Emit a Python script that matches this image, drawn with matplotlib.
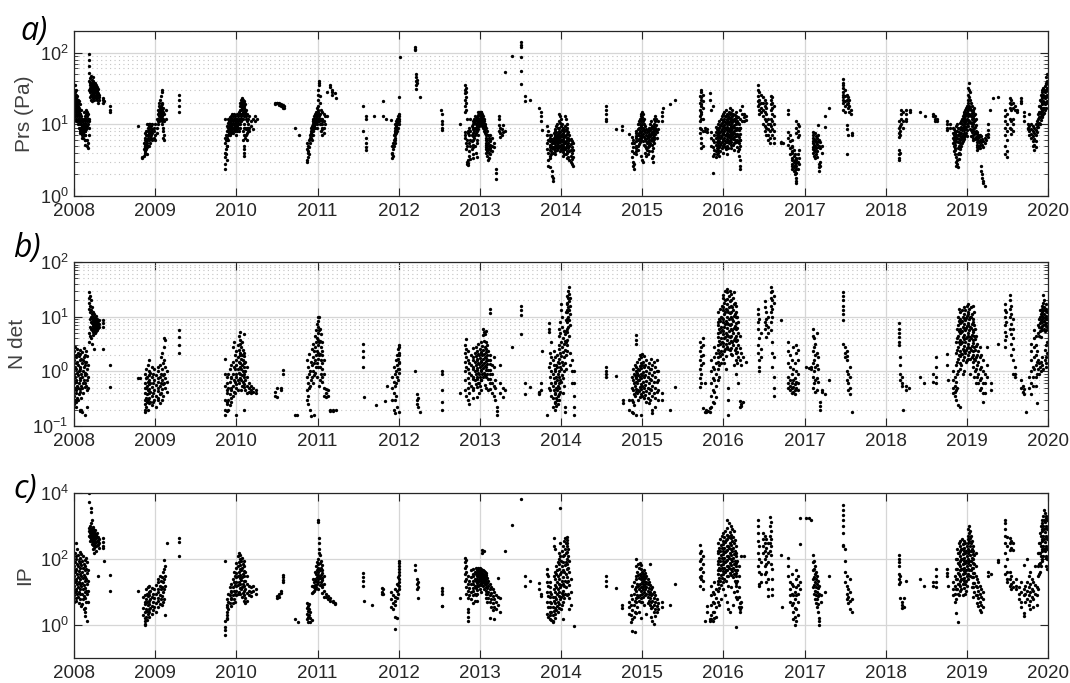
import numpy as np
import matplotlib
matplotlib.use('Agg')
import matplotlib.pyplot as plt
from matplotlib.ticker import LogLocator, NullFormatter, NullLocator

plt.rcParams['font.family'] = ['Liberation Sans', 'DejaVu Sans']
plt.rcParams['mathtext.default'] = 'regular'

years = list(range(2008, 2021))

# (decimal year, values detected on that day)
prs_days = [
    (2008.00, [22, 18, 30, 15, 26, 12]), (2008.01, [20, 28, 16, 13, 24, 19, 35]),
    (2008.02, [17, 21, 14, 11, 26, 23]), (2008.03, [19, 23, 15, 12, 30, 17, 21]),
    (2008.04, [16, 20, 13, 25, 11, 18]), (2008.05, [14, 22, 12, 18, 10, 16, 20]),
    (2008.06, [13, 17, 11, 21, 9, 15]), (2008.07, [12, 16, 10, 19, 8.5, 14, 11]),
    (2008.08, [11, 14, 9, 12, 8, 7.5]), (2008.09, [10, 13, 8.5, 7.5, 16, 9]),
    (2008.10, [9, 11, 8, 7, 12, 9.5, 6.5]), (2008.11, [8, 10, 7.5, 6.5, 9, 11]),
    (2008.12, [9, 12, 7, 8.5, 15, 10]), (2008.13, [8, 6, 5.2, 10, 7.2, 12]),
    (2008.14, [9.5, 11, 7, 13, 8, 6]), (2008.15, [10, 12, 14, 9, 8.5, 16]),
    (2008.16, [11, 13, 9.5, 15, 6, 5]), (2008.17, [10, 14, 12, 4.6, 5.5]),
    (2008.18, [12, 9, 11, 7]),
    (2008.19, [95, 80, 65, 52, 40, 30]), (2008.20, [35, 28, 44, 24, 32, 38]),
    (2008.21, [30, 38, 26, 47, 22, 33]), (2008.22, [28, 35, 42, 25, 31, 21, 37]),
    (2008.23, [32, 27, 38, 24, 30, 36, 45]), (2008.24, [29, 34, 26, 40, 23, 31]),
    (2008.25, [31, 27, 36, 24, 33, 22, 29]), (2008.26, [28, 33, 25, 38, 30, 35]),
    (2008.27, [26, 30, 35, 23, 28, 32]), (2008.28, [30, 25, 33, 27, 22, 29]),
    (2008.29, [27, 24, 31, 20]), (2008.31, [26, 22, 24]), (2008.36, [22, 20, 23]),
    (2008.37, [21]), (2008.44, [18, 16, 15]),
    (2008.79, [9.5]), (2008.84, [3.5, 3.4]), (2008.86, [5.5, 4.5, 3.6]),
    (2008.87, [6, 4, 5, 3.8]), (2008.88, [6.5, 5, 4.2, 7.5, 4.8]),
    (2008.89, [7, 5.5, 4.5, 6, 8, 5.2]), (2008.90, [6, 4.8, 7.2, 5.5, 3.8, 10]),
    (2008.91, [8, 6.5, 5, 9, 7]), (2008.92, [7.5, 9.5, 6, 10, 8.5, 5]),
    (2008.93, [8.8, 7, 10, 6.2, 9.2]), (2008.94, [9, 7.8, 6.8, 10, 5.5]),
    (2008.95, [8, 6.5, 9.5, 7]), (2008.96, [7.5, 6, 8.5, 10]), (2008.98, [8, 6.5, 9]),
    (2009.00, [10, 7, 6]), (2009.02, [12, 9, 7.5]), (2009.04, [12, 14, 10, 16, 11]),
    (2009.05, [15, 13, 18, 11, 20, 14]), (2009.06, [16, 12, 14, 22, 17, 13]),
    (2009.07, [18, 15, 25, 13, 12, 16]), (2009.08, [14, 20, 28, 17, 11, 15]),
    (2009.09, [13, 16, 19, 12, 10, 30]), (2009.10, [15, 17, 12, 9, 6.5, 8]),
    (2009.11, [14, 11, 7, 6]), (2009.13, [16, 12]), (2009.29, [26, 22, 18, 15]),
    (2009.86, [12, 6.5, 5.5, 4, 3.5, 2.8, 2.4]), (2009.87, [7, 6, 4.5, 3.8]),
    (2009.88, [6.5, 5, 9.5, 3.2]), (2009.89, [8, 6, 5]),
    (2009.90, [9, 7, 8, 10.5, 12, 6]), (2009.91, [8.5, 10, 7.5, 11, 9]),
    (2009.92, [9.5, 8, 11, 7, 12.5, 10]), (2009.93, [10, 8.5, 12, 9, 7.5]),
    (2009.94, [9, 11, 7.8, 13, 8.2]), (2009.95, [10, 12, 9.2, 14, 8]),
    (2009.96, [11, 9, 13, 7.5, 10]), (2009.97, [12, 10, 14, 8.5, 9]),
    (2009.98, [10, 13, 11, 9.5, 8]), (2009.99, [12, 9, 11, 8.5]),
    (2010.00, [9, 11, 7, 10, 12]), (2010.01, [10, 12, 14, 8, 9.5]),
    (2010.02, [11, 13, 9, 10]), (2010.03, [12, 10, 8, 15]), (2010.04, [14, 11, 9, 12]),
    (2010.05, [18, 14, 12, 20, 10, 16]), (2010.06, [16, 20, 22, 13, 11, 18]),
    (2010.07, [21, 17, 14, 23, 12, 19]), (2010.08, [20, 15, 18, 22, 12, 8, 6]),
    (2010.09, [18, 14, 21, 16, 9, 5, 4]), (2010.10, [17, 13, 20, 10, 7, 4.5, 3.6]),
    (2010.11, [15, 19, 9, 6.5, 14]), (2010.12, [13, 16, 8.5, 7, 12]),
    (2010.13, [11, 9, 7.5, 6, 14]), (2010.14, [12, 10, 8, 9]), (2010.16, [13, 9, 8]),
    (2010.18, [11, 9.5]), (2010.20, [12, 8.5]), (2010.23, [13, 11]), (2010.25, [12]),
    (2010.48, [20, 19]), (2010.50, [20, 19.5]), (2010.52, [20, 18.5]),
    (2010.55, [19, 18]), (2010.57, [18.5, 17.5, 17]), (2010.59, [18, 17]),
    (2010.72, [9]), (2010.77, [7]),
    (2010.87, [5.5, 4.5, 3.2, 3.0]), (2010.88, [5, 4, 3.5, 4.2]), (2010.89, [6, 4.8, 3.8]),
    (2010.91, [7, 5.5, 6.5]), (2010.92, [8, 6.5, 7.5, 9]), (2010.93, [7, 9.5, 8, 6]),
    (2010.94, [10, 8, 11, 7]), (2010.95, [9, 11, 12, 8.5, 10]), (2010.96, [11, 13, 9.5, 12]),
    (2010.97, [10, 12, 14, 11, 9]), (2010.98, [12, 10.5, 13, 15]),
    (2010.99, [11, 13, 17, 10, 9]), (2011.00, [14, 12, 16, 18, 11]),
    (2011.01, [22, 26, 30, 12, 15]), (2011.02, [38, 40, 35, 13, 11]),
    (2011.03, [25, 20, 14, 10, 12]), (2011.04, [16, 12, 10, 8]), (2011.05, [15, 11, 9, 7]),
    (2011.06, [12, 10, 8.5]), (2011.08, [14, 11, 9, 7.5]), (2011.09, [13, 10]),
    (2011.12, [28, 13]), (2011.15, [33, 35]), (2011.18, [26, 30, 28]), (2011.21, [27]),
    (2011.23, [23]),
    (2011.56, [18, 8]), (2011.60, [13, 12, 6.5, 5.5, 4.8, 4.4]), (2011.70, [13]),
    (2011.81, [21, 13]), (2011.85, [12]), (2011.91, [11.5]),
    (2011.92, [4, 3.4, 3.8, 5]), (2011.93, [4.5, 5.5, 3.6]), (2011.94, [6, 5, 7]),
    (2011.95, [6.5, 8, 7.5, 5.5]), (2011.96, [7, 9, 8, 6, 10]),
    (2011.97, [8.5, 10, 11, 7.5, 9.5]), (2011.98, [9, 11, 12, 10, 8]),
    (2011.99, [10.5, 12, 13, 11, 9]), (2012.00, [11, 13, 14, 12, 10]),
    (2012.01, [24]), (2012.02, [86]),
    (2012.20, [118, 112, 108]), (2012.21, [50, 45, 40, 35, 31]), (2012.22, [42, 38]),
    (2012.26, [24]), (2012.52, [16]), (2012.54, [14, 11, 10, 9, 8.3]),
    (2012.76, [10]), (2012.82, [35, 30, 27, 22, 18, 15, 7.8, 7, 6.5]),
    (2012.83, [32, 28, 24, 20, 16, 5.5, 4.5]), (2012.84, [12, 6, 5, 3, 2.8]),
    (2012.85, [8, 7.5, 3.2, 2.9, 2.7]), (2012.87, [9, 7, 5.5, 4.2, 3.6]),
    (2012.88, [12, 8, 6, 5, 3.3]), (2012.90, [9.5, 7.2, 5.8, 4.5]),
    (2012.91, [11, 8.5, 6.8, 5.2, 3.8]), (2012.92, [10, 9, 7.5, 6, 4.8, 3.4]),
    (2012.93, [12, 10.5, 8, 6.5]), (2012.94, [13, 11, 9, 7, 5]),
    (2012.95, [12, 10, 8.5, 7.5, 4]), (2012.96, [11.5, 9.5, 8, 6, 3.5]),
    (2012.97, [12.5, 11, 10, 9, 5.5]), (2012.98, [15, 13.5, 12, 10.5, 8.5, 7]),
    (2012.99, [14, 12, 11, 9.5, 15]), (2013.00, [13, 11, 15, 10, 14, 12]),
    (2013.01, [15, 12, 14, 10, 11, 13]), (2013.02, [14, 12, 13, 11, 10, 15]),
    (2013.03, [13, 14, 11, 12, 9.5]), (2013.04, [12, 10, 11, 13, 9]),
    (2013.05, [11, 9, 10, 12, 8]), (2013.06, [10, 8.5, 9.5, 7.5]),
    (2013.07, [7, 6, 5.2, 4.5, 9]), (2013.08, [6.5, 5.5, 4.8, 4, 7.4]),
    (2013.09, [6, 5, 4.2, 3.6, 8]), (2013.10, [7, 5.5, 4.5, 3.2]),
    (2013.11, [6.5, 5, 4, 3.4]), (2013.12, [6, 5.2, 4.4, 3.8]), (2013.13, [7, 5.8, 4.6]),
    (2013.15, [6.5, 5, 4.2]), (2013.17, [5.5, 4.8]), (2013.20, [2.4, 2.1, 1.7]),
    (2013.23, [13, 12, 9.7, 8]), (2013.25, [9, 7.5, 6.7]), (2013.27, [8.5, 7]),
    (2013.29, [9.7, 7.8]), (2013.31, [53, 8]), (2013.40, [90]),
    (2013.51, [139, 128, 118, 86, 56, 37]), (2013.56, [25, 21]), (2013.62, [22]),
    (2013.73, [17]), (2013.75, [15, 13, 11]), (2013.77, [8.4]),
    (2013.83, [9.5, 7, 5.5, 4.5]), (2013.84, [8, 6, 4, 3.2, 2.6]),
    (2013.86, [7.2, 5.8, 4.8, 3.6, 2.5]), (2013.87, [6.5, 5.2, 4.4, 3.4]),
    (2013.88, [7, 6, 5, 4.2, 3.8]), (2013.89, [6.2, 5.4, 4.6, 2.2, 1.9]),
    (2013.90, [5.8, 4.8, 4, 1.8, 1.6]), (2013.91, [7.5, 6.5, 5.5, 4.5]),
    (2013.92, [8, 6.8, 5.8, 5, 4.3]), (2013.93, [8.5, 7.2, 6.2, 5.4, 4.6, 3.9]),
    (2013.94, [9.5, 7.8, 6.6, 5.6, 4.8]), (2013.95, [10, 7, 6, 5.2, 4.4]),
    (2013.96, [8.8, 7.4, 6.4, 5.5, 4.7]), (2013.97, [9, 7.6, 6.5, 5.7, 5]),
    (2013.98, [14, 11, 8, 6.8, 5.8, 4.9]), (2013.99, [13, 10.5, 7.8, 6.6, 5.6, 4.2]),
    (2014.00, [12, 9.6, 7, 6, 5.1, 4.5]), (2014.01, [10, 8.2, 6.9, 5.9, 4.8]),
    (2014.02, [9, 7.5, 6.3, 5.3, 4.4, 3.6]), (2014.03, [8.5, 7, 6, 5, 4.1]),
    (2014.04, [8, 6.6, 5.6, 4.7, 3.9]), (2014.05, [13, 9.5, 6.8, 5.5, 4.5]),
    (2014.06, [12, 8.5, 7, 5.8, 4.9, 3.8]), (2014.07, [10, 8, 6.4, 5.2, 4.3]),
    (2014.08, [9, 7.4, 6, 5, 4, 3.4]), (2014.09, [7.8, 6.5, 5.4, 4.6, 3.5]),
    (2014.10, [7, 6, 5, 4.2, 3.2]), (2014.12, [6.2, 5.3, 4.4, 3.6, 3]),
    (2014.13, [5.8, 4.8, 4, 3.3, 2.8]), (2014.15, [5.5, 4.4, 3.5, 2.6]),
    (2014.55, [18, 16, 14, 12, 11]), (2014.68, [8.7]), (2014.75, [9.5, 8.2]),
    (2014.84, [7.4]), (2014.88, [6.6, 5.5, 4.2, 3.5]), (2014.89, [6, 4.8, 3, 2.6]),
    (2014.90, [5.5, 4, 2.8, 2.4]), (2014.92, [7.5, 6.5, 5, 4.3]),
    (2014.93, [8, 6.8, 5.8, 4.6, 3.8]), (2014.95, [10, 8.5, 7, 6, 5, 4.4]),
    (2014.96, [11, 9, 7.5, 6.2, 5.3]), (2014.97, [12, 10, 8, 6.8, 5.6]),
    (2014.98, [13, 11, 9, 7.2, 6]), (2014.99, [14, 12, 9.5, 7.8, 6.4, 3.6]),
    (2015.00, [15, 12.5, 10, 8, 6.8, 3.2]), (2015.01, [14, 11, 9, 7.4, 5.8, 3]),
    (2015.02, [12, 10, 8.2, 6.6, 5.2]), (2015.04, [9.5, 7.8, 6.3, 5, 4]),
    (2015.05, [8.5, 7, 5.8, 4.6, 3.6]), (2015.06, [7.8, 6.4, 5.4, 4.4]),
    (2015.07, [8.2, 6.8, 5.6, 4.8, 3.8]), (2015.08, [9, 7.4, 6, 5]),
    (2015.09, [8, 6.6, 5.2, 4.2]), (2015.10, [10, 8.4, 6.9, 5.5]),
    (2015.11, [11, 9, 7.4, 6]), (2015.12, [9.5, 7.8, 6.4, 5.2, 4.2, 3.4]),
    (2015.13, [8.6, 7, 5.8, 4.6, 3.6, 3]), (2015.14, [12, 9.2, 7.6, 6.2]),
    (2015.15, [10, 8, 6.6, 5.4]), (2015.16, [13, 11, 9, 7.4]), (2015.17, [12, 9.8, 8.2]),
    (2015.18, [7.8, 6.5]), (2015.19, [11, 8.6]), (2015.24, [15, 13, 11]),
    (2015.26, [17]), (2015.34, [19]), (2015.40, [22]),
    (2015.71, [25, 20, 16, 13, 11, 9, 7.5]), (2015.72, [28, 22, 18, 14, 12, 5.5, 4.6]),
    (2015.73, [30, 24, 19, 15, 8.5, 6.5]), (2015.75, [26, 21, 17, 12, 8, 5]),
    (2015.77, [9, 8]), (2015.80, [8.5, 7.8]), (2015.83, [27, 22]),
    (2015.85, [16, 7.8, 6.5, 5]), (2015.87, [18, 6, 4.8, 3.6, 2.1]),
    (2015.89, [7.2, 5.6, 4.4, 3.8]), (2015.91, [9.2, 7.8, 6.4, 5.2, 4.2, 3.5]),
    (2015.92, [8.5, 7, 5.6, 4.6, 3.8]), (2015.93, [9, 7.5, 6, 5, 4]),
    (2015.94, [10, 8.2, 6.6, 5.4, 4.4]), (2015.95, [11, 8.8, 7.2, 5.8, 4.8, 3.6]),
    (2015.96, [9.6, 7.8, 6.4, 5.2, 4.2]), (2015.97, [12, 10, 8, 6.6, 5.4]),
    (2015.98, [13, 10.5, 8.6, 7, 5.7, 4.6]), (2015.99, [11, 9, 7.4, 6, 5]),
    (2016.00, [14, 11.5, 9.4, 7.6, 6.2, 5, 4]), (2016.01, [15, 12, 9.8, 8, 6.5, 5.3]),
    (2016.02, [13, 10.8, 8.8, 7.2, 5.9, 4.8]), (2016.03, [16, 13, 10.5, 8.5, 7, 5.7, 4.5]),
    (2016.04, [14, 11.5, 9.3, 7.6, 6.2, 5]), (2016.05, [12, 10, 8.2, 6.8, 5.6, 4.6, 3.9]),
    (2016.06, [13, 10.6, 8.7, 7.1, 5.8, 4.7]), (2016.07, [15, 12.2, 10, 8.1, 6.6, 5.4]),
    (2016.08, [17, 14, 11.2, 9, 7.3, 6]), (2016.09, [14.5, 11.8, 9.6, 7.8, 6.4, 5.2]),
    (2016.10, [12.5, 10.2, 8.4, 6.9, 5.6, 4.6]), (2016.11, [16, 13.2, 10.8, 8.8, 7.2]),
    (2016.12, [14, 11.4, 9.3, 7.6, 6.2, 5.1]), (2016.13, [12, 9.8, 8, 6.6, 5.4, 4.4]),
    (2016.14, [13.5, 11, 9, 7.4, 6]), (2016.15, [15, 12.4, 10.2, 8.3, 6.8, 5.6]),
    (2016.16, [13, 10.6, 8.6, 7, 5.7]), (2016.17, [11, 9, 7.4, 6, 4.9]),
    (2016.18, [12.8, 10.4, 8.5, 7, 5.8, 4.2]), (2016.19, [10, 8.2, 6.7, 5.5, 4.5, 3.6]),
    (2016.20, [9, 7.4, 6.1, 5, 3.2, 2.6]), (2016.21, [16, 12, 9, 6, 2.4]),
    (2016.23, [18, 14, 11]), (2016.26, [14, 12.5, 11]), (2016.28, [13, 11.5]),
    (2016.43, [35, 30, 25, 21, 18]), (2016.44, [28, 22, 19, 16, 14]),
    (2016.46, [26, 20, 17, 15]), (2016.49, [24, 20, 16, 13, 10]),
    (2016.51, [22, 18, 15, 12, 9.5, 8]), (2016.53, [20, 17, 14, 11, 9, 7]),
    (2016.55, [12, 10, 8.5, 7, 6]), (2016.57, [10, 8, 6.5, 5.5]),
    (2016.59, [25, 22, 19, 16, 12, 9.5]), (2016.60, [24, 20, 17, 14, 11, 8.5, 7]),
    (2016.62, [18, 13, 10, 8, 6.5, 5.4]), (2016.71, [5.6, 5.4]), (2016.74, [5.5]),
    (2016.80, [16, 14, 7.8, 6.5, 5.2]), (2016.82, [7, 5.8, 4.6, 3.8]),
    (2016.84, [6, 4.8, 4, 3.2, 2.6]), (2016.85, [5, 4.2, 3.4, 2.8, 2.4]),
    (2016.87, [4.4, 3.6, 3, 2.5, 2.2]), (2016.88, [3.8, 3.2, 2.7, 2.3, 2]),
    (2016.89, [3.4, 2.9, 2.4, 2.1, 1.8, 1.6]), (2016.90, [11, 9, 7.5, 3.2, 2.6, 1.5]),
    (2016.92, [10, 8, 6.6, 3.8, 3, 2.4]), (2016.93, [9.5, 7.2, 4.4, 3.4, 2.8]),
    (2017.10, [7.8, 6.5, 5.4, 4.5]), (2017.11, [7, 5.8, 4.8, 4]),
    (2017.12, [6.2, 5.2, 4.4, 3.6]), (2017.13, [7.5, 6, 5, 4.2, 3.4]),
    (2017.14, [6.8, 5.6, 4.6, 3.8]), (2017.15, [6.4, 5.3, 4.3, 3.5]),
    (2017.17, [9.7, 7, 5.8, 4.8]), (2017.18, [6, 5, 2.8, 2.5, 2.2]),
    (2017.19, [5.6, 4.6, 3, 2.6]), (2017.21, [5, 4]), (2017.25, [13, 9.2]),
    (2017.30, [17]), (2017.47, [43, 38, 32, 26, 22]), (2017.48, [35, 28, 24, 20, 16]),
    (2017.50, [30, 25, 21, 18, 15]), (2017.52, [26, 22, 19, 9.7, 8.5, 3.8]),
    (2017.53, [24, 20, 17, 7]), (2017.55, [22, 18, 15]), (2017.57, [16, 14]),
    (2017.59, [7.5, 7]),
    (2018.16, [4.4, 3.8, 3.4, 3.2]), (2018.17, [11, 9, 7.5, 6.6]), (2018.18, [9.5, 8, 7, 4]),
    (2018.19, [16, 14, 12, 10]), (2018.21, [15, 11, 9]), (2018.25, [16, 14, 12, 11]),
    (2018.30, [16, 15]), (2018.42, [15]), (2018.48, [13]), (2018.58, [14, 13]),
    (2018.61, [13, 12, 11]), (2018.63, [12, 11]),
    (2018.75, [11, 10, 9, 8.3]), (2018.79, [10, 9]), (2018.83, [9, 7.5, 6.5, 5.5]),
    (2018.84, [8.5, 7, 6, 5, 4.2]), (2018.85, [8, 6.6, 5.6, 4.6, 3.8]),
    (2018.86, [7.6, 6.2, 5.2, 4.4]), (2018.87, [9.5, 7.2, 5.8, 3.5, 3, 2.6]),
    (2018.88, [10, 8, 6.4, 3.2, 2.8]), (2018.89, [8.8, 7, 5.6, 4.6, 3.8, 2.5]),
    (2018.90, [7.8, 6.3, 5, 4, 3.3]), (2018.91, [9, 7.4, 6, 4.8, 3.9]),
    (2018.92, [10.5, 8.5, 6.8, 5.5, 4.5]), (2018.93, [11, 9.2, 7.6, 6.2, 5]),
    (2018.94, [12, 10, 8.2, 6.6, 5.4]), (2018.95, [13, 11, 9, 7.2, 5.8]),
    (2018.96, [14, 11.5, 9.4, 7.6, 6.2]), (2018.97, [15, 12.4, 10, 8.2, 6.6]),
    (2018.98, [16, 13, 10.6, 8.6, 7]), (2018.99, [17, 14, 11.4, 9.2, 7.5]),
    (2019.00, [18, 15, 12, 10, 8.2, 6.8]), (2019.01, [22, 17, 14, 11.5, 9.4]),
    (2019.02, [32, 26, 20, 16, 13, 10.5]), (2019.03, [38, 30, 24, 18, 14, 11]),
    (2019.04, [28, 22, 17, 13.5, 10.8, 8.6]), (2019.05, [20, 16, 13, 10.5, 8.4, 6.8]),
    (2019.06, [18, 14.5, 11.8, 9.6, 7.8]), (2019.07, [16, 13, 10.6, 8.6, 7, 6]),
    (2019.08, [15, 12.2, 10, 8, 6.5]), (2019.09, [17, 13.6, 11, 9, 7.3]),
    (2019.10, [14, 11.4, 9.2, 7.5, 6.2]), (2019.11, [12, 9.8, 8, 6.6]),
    (2019.12, [7.8, 6.6, 5.6, 4.8]), (2019.13, [7.4, 6.2, 5.2, 4.4]),
    (2019.14, [7, 5.8, 5, 4.6]), (2019.15, [6.6, 5.6, 4.8]), (2019.16, [7.2, 6, 5.2, 4.6]),
    (2019.18, [6.8, 5.6, 2.6, 2.2]), (2019.19, [6.2, 5.2, 2, 1.8]),
    (2019.20, [5.8, 4.8, 1.6, 1.5]), (2019.22, [6.4, 5.4, 1.4]), (2019.24, [7, 6]),
    (2019.26, [10, 8.4, 7.4, 6.6]), (2019.28, [16]), (2019.32, [23]), (2019.38, [24]),
    (2019.47, [16, 13, 11, 9, 7, 5, 3.8]), (2019.49, [14, 10, 8, 6, 4.2, 3.5]),
    (2019.53, [23, 20, 17, 12, 9]), (2019.55, [22, 19, 16, 11, 8.5, 7.4]),
    (2019.57, [20, 17, 12, 10, 8]), (2019.59, [18, 16]), (2019.62, [16, 15]),
    (2019.67, [23, 21, 20]), (2019.71, [15, 13, 11]), (2019.75, [10, 9, 8.5]),
    (2019.77, [14, 9.5, 8, 7]), (2019.79, [10, 8.6, 7.4, 6.5]),
    (2019.81, [9.5, 8, 6.8, 5.8, 5]), (2019.83, [9, 7.6, 6.2, 5.2, 4.4]),
    (2019.85, [10, 8.4, 7, 5.8, 4.8]), (2019.87, [11, 9.2, 7.8]),
    (2019.88, [14, 12, 10, 9.2]), (2019.89, [18, 15, 12.5, 10.5]),
    (2019.90, [22, 18, 15, 12.5, 10]), (2019.91, [26, 21, 17, 14, 11.5]),
    (2019.92, [30, 24, 20, 16, 13]), (2019.93, [28, 23, 19, 15.5, 12.5]),
    (2019.94, [32, 26, 21, 17, 14]), (2019.95, [30, 25, 20.5, 17, 14.5]),
    (2019.96, [34, 28, 23, 19, 16]), (2019.97, [38, 30, 25, 20, 17]),
    (2019.98, [45, 36, 29, 24, 20]), (2019.99, [50, 40, 32, 26, 21]),
]

ndet_days = [
    (2008.00, [2.4, 1.6, 0.9, 0.6, 0.35, 0.25]), (2008.01, [2.8, 1.2, 0.8, 0.5, 0.3]),
    (2008.02, [2, 1.4, 0.7, 0.45, 0.28, 0.22]), (2008.03, [1.8, 1.1, 0.65, 0.4]),
    (2008.04, [2.6, 1.5, 0.95, 0.55, 0.33]), (2008.05, [2.2, 1.3, 0.85, 0.5, 0.3]),
    (2008.06, [1.9, 1, 0.6, 0.38]), (2008.07, [2.5, 1.6, 1.1, 0.7, 0.42]),
    (2008.08, [2.1, 1.2, 0.75, 0.48, 0.2, 0.19]), (2008.09, [1.7, 0.9, 0.55, 0.32, 0.2]),
    (2008.10, [2.3, 1.4, 0.8, 0.5, 0.18]), (2008.11, [1.6, 1, 0.62, 0.4]),
    (2008.12, [2.7, 1.8, 1.2, 0.7]), (2008.13, [2, 1.3, 0.85, 0.52]),
    (2008.14, [1.5, 0.95, 0.6, 0.16]), (2008.15, [2.4, 1.5, 0.9, 0.55]),
    (2008.16, [1.9, 1.1, 0.7, 0.45, 0.22]), (2008.17, [1.3, 0.8, 0.5]),
    (2008.19, [28, 22, 18, 14, 5, 3.5]), (2008.20, [24, 16, 12, 9, 6.5, 4.5]),
    (2008.21, [20, 13, 10, 8, 6, 4]), (2008.22, [15, 11, 9.5, 7.5, 5.6, 3.2]),
    (2008.23, [12, 9.8, 8, 6.8, 5.8, 4.6]), (2008.24, [10, 8.6, 7.4, 6.2, 5.2]),
    (2008.25, [11, 9.2, 7.8, 6.6, 5.5, 2.6]), (2008.26, [9.6, 8.2, 7, 6, 5]),
    (2008.27, [10.5, 8.8, 7.6, 6.4, 5.4]), (2008.28, [9, 7.8, 6.7, 5.7]),
    (2008.29, [8.5, 7.2, 6.2]), (2008.31, [8.8, 7.4, 6.5]), (2008.36, [8.6, 7.5, 6.5, 2.6]),
    (2008.44, [1.3, 0.52]),
    (2008.79, [0.74]), (2008.81, [0.74]), (2008.87, [0.5, 0.3, 0.18]),
    (2008.88, [0.9, 0.6, 0.4, 0.25, 0.2]), (2008.89, [1.1, 0.75, 0.5, 0.32, 0.22]),
    (2008.90, [0.8, 0.55, 0.38, 0.27]), (2008.91, [1.3, 0.65, 0.45, 0.3, 0.2]),
    (2008.92, [1, 0.7, 0.48, 0.33]), (2008.93, [1.6, 0.85, 0.58, 0.4, 0.26]),
    (2008.94, [0.95, 0.62, 0.42, 0.28]), (2008.96, [1.2, 0.8, 0.52, 0.35, 0.24]),
    (2008.97, [0.9, 0.6, 0.4, 0.27]), (2008.99, [1.1, 0.7, 0.46, 0.3]),
    (2009.01, [0.85, 0.56, 0.36, 0.22]), (2009.03, [1.2, 0.75, 0.5, 0.32]),
    (2009.04, [1, 0.65, 0.44, 0.3]), (2009.06, [1.3, 0.8, 0.55, 0.38, 0.26]),
    (2009.07, [1.8, 0.9, 0.6, 0.4]), (2009.09, [2.2, 1.1, 0.7, 0.48, 0.3]),
    (2009.10, [1.4, 0.85, 0.58, 0.36]), (2009.11, [4, 2.8, 1.6, 0.9, 0.6]),
    (2009.12, [3.8, 1.2, 0.75, 0.5]), (2009.14, [1, 0.65, 0.42]),
    (2009.29, [5.6, 4.2, 3, 2.2]),
    (2009.86, [1.7, 0.9, 0.55, 0.3, 0.2, 0.16]), (2009.88, [0.8, 0.45, 0.28, 0.19]),
    (2009.89, [0.6, 0.4, 0.25]), (2009.90, [0.9, 0.5, 0.3, 0.2]),
    (2009.92, [1.1, 0.65, 0.38, 0.24]), (2009.93, [0.75, 0.45, 0.28]),
    (2009.94, [1.3, 0.8, 0.5, 0.32]), (2009.96, [2.8, 1.5, 0.9, 0.55, 0.35]),
    (2009.97, [3.4, 1.2, 0.7, 0.42]), (2009.98, [2, 1.1, 0.65, 0.4]),
    (2009.99, [1.6, 0.9, 0.58, 0.16]), (2010.00, [2.4, 1.3, 0.8, 0.5]),
    (2010.02, [3, 1.8, 1.1, 0.7, 0.45]), (2010.03, [4.5, 2.5, 1.5, 0.95, 0.6]),
    (2010.04, [5.2, 3.2, 2, 1.2, 0.75]), (2010.05, [3.8, 2.2, 1.4, 0.9]),
    (2010.06, [2.8, 1.7, 1.1, 0.7, 0.45]), (2010.07, [3.5, 2, 1.3, 0.85, 0.55]),
    (2010.08, [2.5, 1.6, 1, 0.65]), (2010.09, [4.8, 2.2, 1.4, 0.9, 0.58]),
    (2010.10, [1.9, 1.2, 0.8, 0.52, 0.2]), (2010.11, [1.5, 1, 0.68, 0.45]),
    (2010.13, [1.2, 0.8, 0.55, 0.4]), (2010.15, [0.6, 0.5, 0.42]),
    (2010.18, [0.55, 0.45, 0.4]), (2010.21, [0.5, 0.42]), (2010.24, [0.45, 0.4]),
    (2010.48, [0.42, 0.36]), (2010.50, [0.5, 0.34]), (2010.55, [0.5, 0.45]),
    (2010.58, [1.04, 0.9]), (2010.72, [0.16]), (2010.75, [0.16]),
    (2010.87, [1.6, 0.8, 0.45, 0.3]), (2010.88, [1.2, 0.6, 0.35, 0.25]),
    (2010.89, [2.1, 0.9, 0.5]), (2010.91, [1, 0.55, 0.2]), (2010.92, [1.5, 0.7, 0.15]),
    (2010.93, [2.6, 1.3, 0.8]), (2010.95, [3.2, 1.8, 1, 0.6]),
    (2010.96, [2.4, 1.4, 0.85, 0.16]), (2010.97, [4.5, 2.8, 1.6, 0.95]),
    (2010.98, [5.6, 3.4, 2, 1.2]), (2010.99, [7.2, 4, 2.4, 1.4, 0.8]),
    (2011.00, [8.5, 5, 3, 1.7]), (2011.01, [10, 6.5, 3.8, 2.2, 1.2]),
    (2011.02, [9.8, 5.8, 3.4, 2, 0.55]), (2011.03, [6, 3.6, 2.1, 1.2, 0.7]),
    (2011.04, [4.8, 2.8, 1.6, 0.9]), (2011.05, [3.5, 2, 1.1, 0.65]),
    (2011.06, [2.4, 1.4, 0.8]), (2011.08, [1.6, 0.9, 0.5, 0.35]),
    (2011.10, [0.48, 0.4, 0.34]), (2011.13, [0.45, 0.36]), (2011.16, [0.2, 0.19]),
    (2011.19, [0.2, 0.19]), (2011.23, [0.2]),
    (2011.56, [3.2, 2.4, 1.8, 1.2]), (2011.57, [0.34]), (2011.72, [0.24]),
    (2011.83, [0.29]), (2011.86, [0.55]), (2011.92, [0.8, 0.5, 0.3]),
    (2011.94, [1.2, 0.65, 0.4, 0.2]), (2011.95, [0.9, 0.55, 0.3, 0.17]),
    (2011.97, [1.6, 1, 0.6, 0.35]), (2011.98, [2, 1.3, 0.8, 0.22]),
    (2011.99, [2.6, 1.7, 1.1, 0.7]), (2012.00, [3, 2.2, 1.5, 0.95, 0.18]),
    (2012.01, [2.8, 2, 1.4, 1.1]), (2012.20, [1]), (2012.22, [0.39, 0.3, 0.25]),
    (2012.24, [0.33, 0.22]), (2012.26, [0.18]), (2012.53, [1, 0.9, 0.45]),
    (2012.54, [0.27, 0.2]),
    (2012.76, [0.4]), (2012.82, [3, 2.2, 1.5, 1, 0.7, 0.45]),
    (2012.83, [3.9, 2.6, 1.8, 1.2, 0.36]), (2012.85, [2.4, 1.6, 1.1, 0.75, 0.5, 0.3]),
    (2012.87, [1.4, 0.95, 0.62, 0.4, 0.25]), (2012.89, [2, 1.3, 0.85, 0.55]),
    (2012.91, [2.7, 1.8, 1.2, 0.8, 0.5]), (2012.92, [1.6, 1.1, 0.72, 0.46, 0.32]),
    (2012.94, [2.2, 1.5, 1, 0.68]), (2012.95, [2.8, 1.9, 1.3, 0.88, 0.58]),
    (2012.96, [1.7, 1.15, 0.78, 0.52, 0.34]), (2012.97, [2.4, 1.6, 1.08, 0.72]),
    (2012.98, [3.2, 2.1, 1.4, 0.95, 0.62]), (2012.99, [2, 1.35, 0.9, 0.6, 0.4]),
    (2013.00, [2.6, 1.75, 1.18, 0.8, 0.53]), (2013.01, [3.5, 2.3, 1.55, 1.05, 0.7]),
    (2013.02, [2.2, 1.5, 1, 0.68, 0.45]), (2013.03, [2.9, 1.95, 1.3, 0.88]),
    (2013.04, [6, 4.6, 2.5, 1.7, 1.15, 0.78]), (2013.05, [5.2, 3.6, 2.1, 1.4, 0.95]),
    (2013.06, [4.8, 2.8, 1.85, 1.25, 0.84, 0.56]), (2013.07, [3.4, 2.3, 1.55, 1.05]),
    (2013.08, [5.5, 2.6, 1.75, 1.18, 0.8, 0.5]), (2013.09, [3, 2, 1.35, 0.9]),
    (2013.10, [2.4, 1.6, 1.08, 0.72, 0.46]), (2013.12, [14, 11.5, 2, 1.35, 0.9, 0.6]),
    (2013.13, [1.6, 1.08, 0.72, 0.48]), (2013.15, [1.3, 0.88, 0.6, 0.4]),
    (2013.17, [1.8, 1.2, 0.55, 0.35]), (2013.19, [0.7, 0.5, 0.3]),
    (2013.21, [0.22, 0.19, 0.16]), (2013.25, [1.3, 0.6, 0.4]), (2013.28, [0.5, 0.34]),
    (2013.31, [0.45]), (2013.40, [2.8]), (2013.51, [16, 13, 10.6, 4.9]),
    (2013.56, [0.6, 0.39]), (2013.62, [0.52]), (2013.73, [0.42, 0.38]),
    (2013.75, [0.6, 0.45]), (2013.77, [2.4]),
    (2013.83, [0.16]), (2013.85, [7.5, 6, 5.2, 1.2, 0.5]), (2013.87, [2.2, 1.4, 0.8, 0.45]),
    (2013.88, [3.5, 1.8, 1, 0.6, 0.35]), (2013.90, [1.6, 0.9, 0.55, 0.32, 0.22]),
    (2013.91, [2.4, 1.3, 0.75, 0.45]), (2013.92, [1.1, 0.65, 0.4, 0.28, 0.2]),
    (2013.93, [1.8, 1, 0.6, 0.38, 0.26]), (2013.94, [1.3, 0.8, 0.5, 0.33, 0.23]),
    (2013.95, [2, 1.2, 0.7, 0.45, 0.3]), (2013.96, [1.5, 0.9, 0.55, 0.36, 0.25]),
    (2013.97, [6, 4.5, 2.6, 1.4, 0.8, 0.5, 0.3]), (2013.98, [3, 1.7, 1, 0.6, 0.38]),
    (2013.99, [8, 5, 2.2, 1.2, 0.7, 0.42]), (2014.00, [17, 13, 3.5, 1.9, 1.1, 0.65]),
    (2014.01, [10, 6.5, 2.8, 1.5, 0.85]), (2014.02, [4, 2.3, 1.3, 0.75, 0.4]),
    (2014.04, [5.5, 3.2, 1.8, 1, 0.55]), (2014.05, [4.9, 3.6, 2.5, 1.4, 0.22, 0.18]),
    (2014.06, [12, 8.6, 5.5, 3.4, 2, 1.1]), (2014.07, [18, 13, 9, 6, 3.8, 2.4]),
    (2014.08, [24, 17, 12, 8, 5.2, 3]), (2014.09, [30, 22, 15, 10, 6.5]),
    (2014.10, [35, 26, 19, 13, 8.6, 4.5]), (2014.11, [22, 16, 11, 7, 2.2, 1.3]),
    (2014.13, [1.6, 1, 0.6]), (2014.16, [1, 0.6, 0.35, 0.22, 0.16]),
    (2014.55, [1.2, 1, 0.88, 0.79]), (2014.68, [0.82]), (2014.76, [0.3, 0.26]),
    (2014.84, [0.3, 0.2]), (2014.87, [0.8, 0.5, 0.3, 0.18]),
    (2014.89, [1.1, 0.7, 0.45, 0.28, 0.17]), (2014.90, [0.9, 0.6, 0.38, 0.24]),
    (2014.91, [1.3, 0.85, 0.55, 0.35]), (2014.92, [1, 0.8, 0.65, 0.42, 0.16]),
    (2014.93, [4.6, 3.8, 3.2, 1.2, 0.75, 0.48]), (2014.94, [1.5, 0.95, 0.62, 0.4]),
    (2014.95, [1.1, 0.85, 0.7, 0.46, 0.3]), (2014.96, [1.7, 1.05, 0.68, 0.44]),
    (2014.97, [2, 1.25, 0.8, 0.52, 0.34]), (2014.98, [1.4, 0.9, 0.58, 0.38, 0.16]),
    (2014.99, [1.8, 1.15, 0.74, 0.48]), (2015.00, [2.1, 1.3, 0.85, 0.55, 0.36]),
    (2015.01, [1.5, 0.98, 0.64, 0.42]), (2015.02, [1.9, 1.2, 0.78, 0.5, 0.32]),
    (2015.04, [1.3, 0.85, 0.56, 0.37]), (2015.05, [1.6, 1.02, 0.66, 0.43, 0.28]),
    (2015.07, [1.2, 0.78, 0.5, 0.33]), (2015.08, [1.45, 0.94, 0.6, 0.4, 0.26]),
    (2015.10, [1.1, 0.72, 0.47, 0.3]), (2015.11, [1.7, 1.1, 0.7, 0.45]),
    (2015.12, [1.3, 0.84, 0.55, 0.36, 0.2, 0.17]), (2015.14, [1.5, 0.97, 0.63, 0.41]),
    (2015.16, [1.2, 0.78, 0.5, 0.33, 0.22]), (2015.18, [1.6, 1, 0.65, 0.42]),
    (2015.19, [1, 0.68, 0.45, 0.3]), (2015.24, [0.4, 0.3]), (2015.34, [0.2]),
    (2015.40, [0.52]),
    (2015.71, [3.4, 2.4, 1.6, 1.1, 0.75, 0.52]), (2015.73, [2.8, 1.9, 1.3, 0.9, 0.6]),
    (2015.75, [4, 3, 2, 1.4, 0.21]), (2015.77, [0.6, 0.18]), (2015.79, [0.2, 0.18]),
    (2015.81, [0.19]), (2015.83, [0.21, 0.18]), (2015.85, [1.6, 1, 0.6, 0.36, 0.22]),
    (2015.87, [1.2, 0.75, 0.45, 0.28]), (2015.89, [2.8, 1.8, 1.1, 0.7, 0.42, 0.26]),
    (2015.91, [2.2, 1.4, 0.9, 0.55, 0.34]), (2015.93, [8, 5, 3, 1.8, 1.1, 0.7]),
    (2015.94, [12, 7, 4.2, 2.5, 1.5]), (2015.95, [9, 6, 3.6, 2.2, 1.3, 0.8]),
    (2015.96, [14, 8.5, 5.2, 3.1, 1.9]), (2015.97, [10, 6.5, 4, 2.4, 1.4]),
    (2015.98, [16, 9.5, 5.8, 3.5, 2.1]), (2015.99, [22, 13, 8, 4.8, 2.9, 1.7]),
    (2016.00, [25, 15, 9, 5.5, 3.3]), (2016.01, [18, 11, 6.6, 4, 2.4, 1.4]),
    (2016.02, [30, 20, 12, 7.2, 4.3, 2.6]), (2016.03, [14, 8.5, 5.1, 3.1, 1.9, 1.1]),
    (2016.04, [28, 17, 10, 6.2, 3.7]), (2016.05, [32, 21, 13, 7.8, 4.7, 2.8]),
    (2016.06, [12, 7.2, 4.4, 2.6, 0.5, 0.3, 0.16]), (2016.07, [24, 15, 9, 5.4, 3.3]),
    (2016.08, [30, 19, 11.5, 7, 4.2, 2.5]), (2016.09, [20, 12, 7.4, 4.5, 2.7]),
    (2016.10, [26, 16, 9.8, 5.9, 3.6, 2.1]), (2016.11, [15, 9.2, 5.6, 3.4, 2]),
    (2016.12, [22, 13.5, 8.2, 5, 3]), (2016.13, [28, 17, 10.5, 6.3, 3.8, 1.3]),
    (2016.14, [18, 11, 6.8, 4.1, 2.5]), (2016.15, [12, 7.5, 4.5, 2.7, 1.6]),
    (2016.16, [16, 9.8, 6, 3.6, 2.2, 0.9]), (2016.17, [10, 6.2, 3.8, 2.3, 1.4]),
    (2016.18, [8, 5, 3, 1.8, 0.6]), (2016.20, [4.5, 2.7, 1.6, 0.29, 0.22]),
    (2016.22, [2.2, 1.3, 0.25, 0.23]), (2016.24, [1.8, 0.27]), (2016.28, [1.5]),
    (2016.43, [14, 11, 8, 6, 3, 2.2]), (2016.44, [9, 4, 1.6, 1.2, 1]),
    (2016.46, [5, 2.6, 1.8]), (2016.51, [19, 15, 8, 6]), (2016.53, [12, 9, 7, 4.2]),
    (2016.55, [10, 6.5, 5]), (2016.59, [35, 28, 22, 16, 12, 8, 5.6]),
    (2016.60, [30, 20, 14, 10, 3.4, 2.2, 1.2]), (2016.62, [24, 18, 1.8, 0.8, 0.5, 0.36]),
    (2016.71, [8.6]),
    (2016.80, [3.4, 2.4, 1.4, 0.8, 0.6, 0.5]), (2016.82, [2, 1.2, 0.7, 0.55, 0.45]),
    (2016.84, [1.6, 0.9, 0.62, 0.5, 0.4]), (2016.86, [2.8, 1.1, 0.68, 0.52, 0.42]),
    (2016.88, [1.4, 0.75, 0.58, 0.46, 0.39]), (2016.90, [3, 2.2, 1, 0.65, 0.5]),
    (2016.92, [2.5, 1.6, 0.9, 0.6, 0.45]),
    (2017.02, [1.2]), (2017.05, [1.15]), (2017.08, [1.2, 1.1]),
    (2017.11, [6, 4.5, 2.4, 1.4, 0.8, 0.5]), (2017.12, [4, 2.8, 1.6, 1, 0.6]),
    (2017.13, [3.2, 2, 1.2, 0.7, 0.42]), (2017.15, [5, 2.2, 1.3, 0.75, 0.45]),
    (2017.17, [1.8, 1.1, 0.65]), (2017.19, [0.27, 0.23, 0.2]), (2017.22, [0.45, 0.42]),
    (2017.25, [0.39]), (2017.30, [0.7]), (2017.47, [28, 24, 20, 16, 13, 11.4]),
    (2017.48, [8.6, 3.2]), (2017.50, [2.8, 2.2, 1.8]), (2017.52, [2.4, 1.9, 1.6, 1, 0.7]),
    (2017.54, [0.9, 0.6, 0.45]), (2017.56, [1.2, 0.8, 0.5, 0.39]), (2017.58, [0.18]),
    (2018.16, [7.5, 6, 5, 4.2, 3.4, 3]), (2018.18, [1.8, 1.3, 0.9, 0.7]),
    (2018.20, [0.8, 0.6, 0.55]), (2018.21, [0.2]), (2018.25, [0.55, 0.45]),
    (2018.29, [0.5]), (2018.42, [0.79]), (2018.47, [0.6]), (2018.58, [0.9, 0.65]),
    (2018.62, [1.8, 1.2, 0.8, 0.6]), (2018.75, [2.1, 1.3]), (2018.77, [0.7]),
    (2018.83, [1, 0.7, 0.5, 0.4]), (2018.85, [0.8, 0.55, 0.42, 0.35]),
    (2018.87, [3.4, 2.2, 1.3, 0.65, 0.45, 0.3]), (2018.88, [6, 4, 2.5, 1.5, 0.9, 0.5]),
    (2018.89, [10, 7, 4.4, 2.8, 1.7, 1, 0.24]), (2018.90, [14, 8.5, 5.5, 3.4, 2]),
    (2018.91, [9, 6, 3.8, 2.4, 1.4, 0.22]), (2018.92, [12, 7.8, 5, 3.1, 1.9, 1.1]),
    (2018.93, [8, 5.2, 3.3, 2.1, 1.3]), (2018.94, [13, 8.4, 5.4, 3.4, 2.1]),
    (2018.95, [10, 6.5, 4.2, 2.6, 1.6, 0.9]), (2018.96, [15, 9.6, 6.2, 3.9, 2.4]),
    (2018.97, [11, 7.2, 4.6, 2.9, 1.8, 1]), (2018.98, [13.5, 8.8, 5.6, 3.5, 2.2]),
    (2018.99, [9.5, 6.2, 4, 2.5, 1.5]), (2019.00, [16, 10.5, 6.8, 4.3, 2.7, 1.6]),
    (2019.01, [12, 7.8, 5, 3.2, 2]), (2019.02, [17, 11, 7, 4.5, 2.8, 1.7]),
    (2019.03, [14, 9, 5.8, 3.7, 2.3]), (2019.04, [10, 6.6, 4.2, 2.7, 1.7, 0.9]),
    (2019.05, [15, 9.8, 6.3, 4, 2.5]), (2019.06, [11, 7.2, 4.6, 2.9, 1.8]),
    (2019.07, [16, 8, 5.2, 3.3, 2, 1.2]), (2019.08, [9, 5.8, 3.7, 2.4, 1.5]),
    (2019.09, [12, 7, 4.5, 2.8, 1.7, 0.8]), (2019.10, [6, 3.9, 2.5, 1.6, 1]),
    (2019.11, [4.5, 2.9, 1.8, 1.1, 0.6]), (2019.13, [3.2, 2, 1.3, 0.8]),
    (2019.14, [2.4, 1.5, 0.9, 0.6]), (2019.16, [2.8, 1.8, 1.1, 0.7, 0.45]),
    (2019.18, [2, 1.2, 0.75, 0.5]), (2019.20, [1.6, 1, 0.6, 0.4, 0.27]),
    (2019.22, [0.9, 0.6, 0.4]), (2019.25, [2.8, 1.3, 0.8]), (2019.30, [0.6, 0.45]),
    (2019.38, [3.2]), (2019.47, [17, 13, 10, 7, 5.2, 3.8, 2.8]), (2019.48, [12, 8, 4.5]),
    (2019.53, [25, 20, 14, 10, 6]), (2019.55, [16, 11, 7.4, 4.8, 3.2, 2]),
    (2019.57, [9, 6, 4, 2.6, 1.6, 0.9]), (2019.59, [1.2, 0.9, 0.79]),
    (2019.67, [0.68, 0.5]), (2019.69, [0.55, 0.42]), (2019.71, [0.48, 0.39]),
    (2019.73, [0.18]), (2019.77, [0.8, 0.5]), (2019.79, [3.2, 2.4, 1.6, 1, 0.6, 0.39]),
    (2019.81, [1.2, 0.8, 0.55]), (2019.83, [5.6, 4, 2.8, 1.8, 1.1]),
    (2019.85, [4.4, 3, 2, 1.3, 0.8, 0.55]), (2019.87, [2.4, 1.5, 0.9, 0.26]),
    (2019.88, [7, 5, 1.6, 1.1]), (2019.89, [9, 6.5, 4.5, 1.4, 0.9]),
    (2019.90, [13, 10, 7.5, 5.5, 1.2]), (2019.91, [11, 8.5, 6.2, 4.2, 1.5, 1]),
    (2019.92, [16, 12, 9, 6.8, 1.8]), (2019.93, [14, 10.5, 8, 5.8, 1.3]),
    (2019.94, [25, 18, 13, 9.5, 7, 1.1]), (2019.95, [20, 15, 11, 8.2, 6]),
    (2019.96, [13, 10, 7.4, 5.5, 2.5, 1.6]), (2019.97, [17, 12.5, 9.2, 6.8, 3, 1.4]),
    (2019.98, [14, 10.5, 7.8, 5.8, 1.8, 1.2]), (2019.99, [12, 9, 6.6, 3.5, 2.2]),
]

ip_days = [
    (2008.00, [60, 30, 15, 8, 5]), (2008.01, [150, 80, 40, 20, 10]),
    (2008.02, [100, 50, 25, 12, 6.5]), (2008.03, [300, 120, 45, 22, 11, 5.5]),
    (2008.04, [200, 70, 35, 18, 9]), (2008.05, [130, 60, 28, 14, 7]),
    (2008.06, [90, 42, 20, 10, 4.5]), (2008.07, [160, 75, 36, 17, 8.5]),
    (2008.08, [110, 52, 25, 12, 6]), (2008.09, [140, 65, 31, 15, 3.7]),
    (2008.10, [85, 40, 19, 9, 4.3]), (2008.11, [120, 55, 26, 12.5, 6]),
    (2008.12, [70, 33, 16, 7.6, 3]), (2008.13, [95, 45, 21, 10, 2.5, 1.9]),
    (2008.14, [60, 28, 13, 6.4, 3.2]), (2008.15, [110, 50, 24, 11, 5]),
    (2008.16, [80, 38, 18, 8.5, 1.3]), (2008.17, [45, 22, 10.5, 5]),
    (2008.19, [10000, 5300, 900, 700, 500]), (2008.20, [1000, 800, 600, 450, 350]),
    (2008.21, [3400, 2700, 1200, 750, 550, 400]), (2008.22, [1500, 900, 650, 480, 360, 280]),
    (2008.23, [800, 600, 450, 340, 260, 200]), (2008.24, [950, 700, 520, 390, 300]),
    (2008.25, [650, 500, 380, 290, 220, 150]), (2008.26, [750, 560, 420, 320, 240]),
    (2008.27, [550, 420, 320, 240, 180]), (2008.28, [600, 450, 340, 260]),
    (2008.29, [480, 360, 270, 30]), (2008.31, [400, 300, 220]),
    (2008.36, [420, 320, 250, 210]), (2008.37, [85]), (2008.44, [33, 11]),
    (2008.79, [10.5]), (2008.85, [7, 3.2, 2]), (2008.87, [5, 2.4, 1.3, 1]),
    (2008.88, [8, 4.4, 1.6, 1.1]), (2008.89, [12, 6, 3, 1.8]), (2008.90, [9, 5, 2.6, 1.4]),
    (2008.91, [14, 7.5, 4, 2.2]), (2008.92, [10, 5.5, 3, 1.7]), (2008.93, [15, 8, 4.3, 2.4]),
    (2008.94, [11, 6, 3.3]), (2008.96, [13, 7, 3.8, 2.1]), (2008.97, [9, 5, 2.8]),
    (2008.99, [12, 6.5, 3.6]), (2009.01, [16, 8.5, 4.6, 2.5]), (2009.03, [25, 12, 6.5, 3.5]),
    (2009.04, [20, 10, 5.5]), (2009.06, [30, 15, 8, 4.2]), (2009.07, [22, 12, 6.3]),
    (2009.09, [28, 14, 7.5, 4]), (2009.10, [40, 20, 10, 5]), (2009.11, [95, 50, 25, 12, 6]),
    (2009.12, [60, 30, 15, 2]), (2009.14, [310]), (2009.29, [420, 330, 120]),
    (2009.86, [84, 1.3, 0.9, 0.7, 0.5]), (2009.88, [4, 2.4, 1.5]), (2009.89, [6, 3.5, 2, 1.6]),
    (2009.90, [9, 5, 3]), (2009.92, [14, 8, 4.5]), (2009.93, [11, 6.5, 3.8]),
    (2009.94, [18, 10, 6]), (2009.96, [25, 14, 8, 4.6]), (2009.97, [40, 20, 11, 6]),
    (2009.98, [30, 16, 9, 5]), (2009.99, [55, 28, 15, 8]), (2010.00, [75, 38, 20, 10.5]),
    (2010.02, [120, 60, 30, 16, 8.5]), (2010.03, [150, 80, 40, 20, 10]),
    (2010.04, [100, 50, 26, 13]), (2010.05, [130, 65, 33, 17, 9]), (2010.06, [90, 45, 23, 12]),
    (2010.07, [110, 55, 28, 14, 7]), (2010.08, [70, 36, 18, 9.5]),
    (2010.09, [85, 42, 21, 11, 5.5]), (2010.10, [60, 30, 15, 8]),
    (2010.11, [40, 22, 12, 6.5, 4.7]), (2010.13, [30, 17, 9.5, 5.5]), (2010.15, [15, 11, 8]),
    (2010.18, [14, 10, 7.5]), (2010.21, [15, 11]), (2010.24, [12, 9]),
    (2010.50, [7.5, 6.5]), (2010.52, [8.5, 7]), (2010.55, [11, 9.5]),
    (2010.58, [33, 28, 23, 20]), (2010.72, [1.5]), (2010.76, [1.2]),
    (2010.87, [4.7, 3.2, 2.2, 1.5]), (2010.88, [3.8, 2.6, 1.8, 1.2]), (2010.89, [4.2, 3, 2]),
    (2010.91, [2.5, 1.6, 1.2]), (2010.93, [15, 9.4, 1.4]), (2010.95, [25, 15, 10]),
    (2010.96, [20, 14, 11]), (2010.97, [40, 25, 16, 12]), (2010.98, [60, 35, 22, 14]),
    (2010.99, [80, 45, 28, 18]), (2011.00, [100, 55, 33, 20, 12]),
    (2011.01, [1500, 1300, 70, 40, 25]), (2011.02, [420, 300, 200, 150, 50, 30]),
    (2011.03, [130, 75, 45, 27, 16]), (2011.04, [90, 52, 32, 20]),
    (2011.05, [65, 38, 23, 14]), (2011.06, [45, 27, 16, 9.4]), (2011.08, [30, 18, 11, 7]),
    (2011.10, [9, 7]), (2011.13, [7.5, 6]), (2011.16, [6.5, 5.5]), (2011.19, [5.5, 5]),
    (2011.22, [4.7, 4.2]),
    (2011.56, [37, 28, 22, 15]), (2011.57, [5.3]), (2011.67, [4]), (2011.79, [13, 10, 8.4]),
    (2011.81, [12, 9]), (2011.91, [10, 6, 3.5]), (2011.93, [8, 4.8, 3]),
    (2011.95, [12, 7, 4]), (2011.96, [5.5, 1.7, 0.74]), (2011.98, [18, 11, 6.5, 1.6]),
    (2011.99, [28, 16, 9]), (2012.00, [90, 60, 40, 25, 15]), (2012.01, [75, 50, 32, 20, 12]),
    (2012.20, [66, 45]), (2012.22, [25, 18, 12]), (2012.24, [20, 14, 6.6]),
    (2012.53, [13, 8.4, 3.7]), (2012.54, [11, 3.7]),
    (2012.76, [6.6]), (2012.82, [105, 80, 55, 35, 22]), (2012.83, [95, 60, 40, 25, 14, 9]),
    (2012.85, [30, 18, 11, 6.6, 3]), (2012.86, [2.4, 1.8, 1.3]), (2012.87, [22, 13, 8]),
    (2012.89, [45, 28, 17, 10, 6]), (2012.91, [35, 22, 13, 8, 4.8]),
    (2012.92, [50, 30, 18, 11]), (2012.94, [40, 25, 15, 9, 5.4]),
    (2012.95, [55, 35, 21, 13, 8]), (2012.96, [38, 24, 15, 9, 5.5]),
    (2012.97, [48, 30, 19, 11.5]), (2012.98, [53, 40, 30, 22, 15]),
    (2012.99, [45, 36, 28, 21, 16]), (2013.00, [52, 42, 33, 25, 18, 12]),
    (2013.01, [48, 38, 30, 22, 16]), (2013.02, [50, 40, 31, 24, 17, 10]),
    (2013.03, [190, 150, 44, 35, 27, 20]), (2013.04, [46, 36, 28, 21, 15]),
    (2013.05, [170, 42, 33, 25, 19, 12]), (2013.06, [40, 30, 23, 17]),
    (2013.07, [38, 28, 20, 14, 9]), (2013.08, [32, 24, 17, 11, 6.5]),
    (2013.09, [26, 19, 13, 8.5, 5]), (2013.10, [22, 15, 10, 6.5]),
    (2013.12, [18, 12, 8, 5, 1.6]), (2013.14, [14, 9.5, 6, 3.5]),
    (2013.16, [12, 7.5, 4.5, 2.8]), (2013.18, [10, 6, 3.5, 1.5]), (2013.20, [8, 5, 3]),
    (2013.22, [27, 7, 4]), (2013.25, [6.5, 2.5]), (2013.31, [170]), (2013.40, [1100]),
    (2013.51, [6800]), (2013.56, [30, 15]), (2013.62, [22]), (2013.73, [19, 12]),
    (2013.75, [9, 7.5]),
    (2013.83, [50, 35, 20, 10, 5, 2.2]), (2013.84, [30, 15, 7.5, 3.5, 1.8]),
    (2013.86, [20, 10, 5, 2.5, 1.5]), (2013.87, [14, 7, 3.5, 2]),
    (2013.88, [9, 4.5, 2.4, 1.4]), (2013.90, [7, 3.6, 2, 1.3, 1.2]),
    (2013.91, [420, 250, 30, 12, 5.5, 2.6]), (2013.92, [200, 40, 16, 7, 3.2]),
    (2013.93, [25, 10, 4.5, 2.2, 1.6]), (2013.94, [60, 35, 14, 6, 2.8]),
    (2013.95, [45, 20, 8.5, 3.8]), (2013.96, [80, 30, 12, 5, 2.4]),
    (2013.97, [100, 50, 18, 7.5, 3.3]), (2013.98, [150, 70, 25, 10, 4.4]),
    (2013.99, [3400, 300, 120, 35, 14, 6]), (2014.00, [90, 40, 16, 7, 3]),
    (2014.01, [180, 60, 22, 9.5, 4]), (2014.02, [120, 45, 18, 8, 1.5]),
    (2014.03, [250, 80, 28, 11, 5]), (2014.04, [350, 130, 40, 15, 6.5]),
    (2014.05, [420, 200, 65, 22, 9]), (2014.06, [300, 150, 80, 35, 14]),
    (2014.07, [380, 250, 100, 50, 20, 8]), (2014.08, [450, 300, 160, 70, 28]),
    (2014.09, [200, 120, 55, 22, 9]), (2014.10, [90, 40, 16, 6.5, 3]),
    (2014.12, [25, 10, 4]), (2014.16, [0.93]),
    (2014.55, [30, 22, 15]), (2014.68, [13]), (2014.75, [4, 3.2]), (2014.84, [5, 3.5, 2.2]),
    (2014.86, [8, 4, 2, 1.2]), (2014.88, [15, 6, 2.8, 1.5, 0.66]), (2014.90, [20, 9, 4, 1.8]),
    (2014.91, [12, 5.5, 2.5, 0.6]), (2014.92, [25, 11, 5, 2.3]),
    (2014.93, [100, 60, 30, 14, 6.5]), (2014.94, [40, 18, 8, 3.6]),
    (2014.95, [70, 32, 15, 7]), (2014.96, [55, 26, 12, 5.5, 2.5]),
    (2014.97, [75, 36, 17, 8]), (2014.98, [50, 24, 11, 5, 1.6]), (2014.99, [65, 30, 14, 6.5]),
    (2015.00, [40, 28, 20, 14, 9, 5]), (2015.01, [35, 25, 18, 12, 7]),
    (2015.02, [45, 30, 21, 15, 10, 4]), (2015.04, [38, 26, 18, 12, 8]),
    (2015.05, [30, 20, 14, 9, 2.2]), (2015.07, [25, 17, 11, 7, 4.5]),
    (2015.08, [20, 13, 8.5, 5.5]), (2015.10, [70, 16, 10, 6.5, 4]),
    (2015.11, [12, 8, 5, 3.2, 1.8]), (2015.12, [14, 9, 5.5, 3.5, 1.3]),
    (2015.14, [10, 6.5, 4, 2.5, 1.1]), (2015.16, [8, 5, 3, 1.9]), (2015.18, [6, 3.8, 2.4]),
    (2015.19, [4.8, 3]), (2015.24, [5, 3.5]), (2015.34, [4]), (2015.40, [17]),
    (2015.71, [260, 150, 90, 50, 28, 15]), (2015.73, [180, 100, 55, 30, 24]),
    (2015.75, [120, 70, 40, 22, 12]), (2015.77, [1.3]), (2015.80, [3.7, 2.5]),
    (2015.83, [1.5, 1.3]), (2015.85, [15, 8, 4, 2, 1.5]), (2015.87, [10, 5, 2.5, 1.3]),
    (2015.89, [20, 9, 4.5, 2.4, 1.6]), (2015.91, [12, 6.5, 3.5, 1.8]),
    (2015.93, [180, 90, 45, 22, 11, 5]), (2015.94, [300, 150, 70, 35, 17]),
    (2015.95, [220, 110, 55, 27, 13, 4]), (2015.96, [400, 180, 90, 45, 22]),
    (2015.97, [260, 130, 65, 32, 16, 6]), (2015.98, [500, 220, 110, 55, 27]),
    (2015.99, [350, 170, 85, 42, 20]), (2016.00, [600, 280, 140, 70, 35, 12]),
    (2016.01, [450, 210, 105, 52, 25]), (2016.02, [700, 320, 160, 80, 40, 8]),
    (2016.03, [380, 180, 90, 45, 22]), (2016.04, [1500, 550, 250, 120, 60, 30]),
    (2016.05, [900, 400, 190, 95, 48, 5]), (2016.06, [500, 240, 120, 60, 30, 15, 3]),
    (2016.07, [1200, 480, 220, 110, 55]), (2016.08, [650, 300, 150, 75, 38, 2.5]),
    (2016.09, [1000, 420, 200, 100, 50]), (2016.10, [550, 260, 130, 65, 33, 14]),
    (2016.11, [800, 350, 170, 85, 42]), (2016.12, [450, 220, 110, 55, 28, 4]),
    (2016.13, [700, 300, 140, 70, 35, 10]), (2016.14, [380, 180, 90, 45, 22]),
    (2016.15, [250, 120, 60, 30, 15, 7]), (2016.16, [150, 75, 38, 19, 0.9]),
    (2016.17, [90, 45, 22, 11, 6]), (2016.19, [60, 30, 14, 7, 3.5]),
    (2016.20, [4.7, 3, 2.4]), (2016.22, [120, 5, 3.5]), (2016.26, [120]),
    (2016.43, [1500, 1000, 600, 350, 150, 60]), (2016.44, [250, 100, 40, 18, 15]),
    (2016.46, [80, 35, 20]), (2016.49, [600, 400, 250, 150]),
    (2016.51, [500, 300, 180, 100, 60, 35]), (2016.53, [400, 220, 120, 70, 40, 20]),
    (2016.55, [300, 150, 80, 25, 12, 7.5]), (2016.57, [1900, 1000, 500, 300, 180]),
    (2016.59, [1300, 700, 400, 250, 130, 70]), (2016.60, [50, 25, 12, 8]),
    (2016.71, [130]), (2016.72, [3.5]),
    (2016.80, [110, 60, 30]), (2016.82, [20, 12, 8, 5]), (2016.84, [35, 18, 9, 4]),
    (2016.86, [15, 8, 4.5, 2.4, 1.5]), (2016.88, [10, 6, 3.2, 1.8, 1]),
    (2016.90, [45, 25, 14, 8, 3, 1.3]), (2016.92, [30, 16, 9, 5, 2]),
    (2016.94, [1700, 280, 20, 12]),
    (2017.02, [1700]), (2017.05, [1700]), (2017.08, [1500]),
    (2017.11, [130, 80, 45, 25, 14]), (2017.12, [90, 50, 28, 16, 9]),
    (2017.13, [60, 35, 20, 11, 6]), (2017.14, [40, 24, 14, 8, 4.5]),
    (2017.15, [30, 18, 10, 6, 3.5]), (2017.17, [22, 13, 7.5, 4.2, 2.5]),
    (2017.18, [15, 9, 1.6, 1.3, 1]), (2017.20, [8, 5]), (2017.25, [10]), (2017.30, [31]),
    (2017.47, [4300, 3000, 2200, 1500, 1000, 600]), (2017.48, [270, 240]),
    (2017.50, [200, 84, 40, 20]), (2017.52, [30, 15, 9, 6]), (2017.54, [12, 7, 4.5]),
    (2017.56, [25, 10, 5.5, 3]), (2017.58, [6, 2.5]),
    (2018.16, [130, 100, 80, 60]), (2018.17, [35, 25, 18]), (2018.18, [30, 20, 6.6]),
    (2018.20, [5, 4, 3.3]), (2018.23, [6.6, 3.5]), (2018.25, [22]), (2018.42, [25]),
    (2018.47, [15]), (2018.58, [20, 15]), (2018.62, [50, 30, 20, 14]),
    (2018.75, [50, 38, 30]), (2018.77, [15]),
    (2018.83, [20, 12, 8]), (2018.85, [30, 15, 9, 5]), (2018.87, [100, 50, 25, 12, 6, 2.3]),
    (2018.88, [200, 100, 50, 25, 12]), (2018.89, [150, 75, 37, 18, 9, 1.2]),
    (2018.90, [300, 150, 70, 35, 17, 8]), (2018.91, [250, 120, 60, 30, 15]),
    (2018.92, [350, 180, 90, 45, 22, 11]), (2018.93, [200, 100, 50, 25, 12]),
    (2018.94, [400, 200, 100, 50, 25]), (2018.95, [280, 140, 70, 35, 17, 8]),
    (2018.96, [350, 170, 85, 42, 21]), (2018.97, [220, 110, 55, 27, 13]),
    (2018.98, [300, 150, 75, 37, 18, 9]), (2018.99, [180, 90, 45, 22, 11]),
    (2019.00, [250, 125, 62, 31, 15]), (2019.01, [400, 200, 100, 50, 25]),
    (2019.02, [800, 500, 300, 150, 75, 35]), (2019.03, [1000, 600, 350, 180, 90, 45]),
    (2019.04, [700, 420, 250, 130, 65, 30]), (2019.05, [500, 300, 180, 90, 45]),
    (2019.06, [350, 200, 110, 55, 28, 14]), (2019.07, [250, 140, 75, 38, 19]),
    (2019.08, [180, 100, 55, 28, 14, 7]), (2019.09, [130, 70, 38, 19, 10]),
    (2019.11, [150, 60, 30, 15, 8]), (2019.12, [25, 14, 8, 4.5]),
    (2019.14, [20, 11, 6.5, 3.8]), (2019.16, [15, 9, 5, 2.8]), (2019.18, [12, 7, 4, 2.4]),
    (2019.20, [10, 6, 3.5]), (2019.26, [40, 30]), (2019.30, [35]), (2019.38, [93, 83]),
    (2019.47, [1500, 1200, 800, 500, 300, 150, 60, 35]), (2019.49, [470, 250, 100, 40, 25, 20]),
    (2019.53, [420, 300, 190, 40, 25, 15]), (2019.55, [350, 220, 30, 18, 12]),
    (2019.57, [300, 190, 20, 14]), (2019.60, [25, 15, 12]), (2019.64, [14, 9, 6]),
    (2019.67, [20, 10, 5, 3.5]), (2019.70, [66, 12, 8, 2.3, 1.9]), (2019.72, [15, 9, 5]),
    (2019.74, [100, 20, 11, 6]), (2019.76, [30, 14, 8, 4]), (2019.78, [40, 18, 10, 5.5, 3]),
    (2019.80, [25, 12, 7]), (2019.82, [20, 11, 6, 3.5]), (2019.84, [60, 16, 9]),
    (2019.86, [14, 8, 4]), (2019.88, [150, 60, 30, 12]), (2019.89, [300, 150, 70, 35]),
    (2019.90, [600, 300, 150, 75, 40]), (2019.91, [1000, 500, 250, 120, 60]),
    (2019.92, [1500, 800, 400, 200, 100]), (2019.93, [1200, 700, 350, 180, 90]),
    (2019.94, [2000, 1000, 500, 250, 120]), (2019.95, [3000, 1500, 800, 400, 200]),
    (2019.96, [2500, 1300, 650, 330, 170]), (2019.97, [2000, 1000, 500, 250, 120, 60]),
    (2019.98, [1800, 900, 450, 220, 110]), (2019.99, [1500, 800, 400, 200, 100, 50]),
]


def unpack(days):
    t, v = [], []
    for d, vals in days:
        t += [d] * len(vals)
        v += vals
    return np.array(t), np.array(v)


def style_axis(ax, ylim, yticks, minor_grid):
    ax.set_yscale('log')
    ax.set_xlim(2008, 2020)
    ax.set_ylim(*ylim)
    ax.set_xticks(years)
    ax.set_xticklabels([str(y) for y in years])
    ax.set_yticks(yticks)
    ax.set_yticklabels(['$10^{%d}$' % round(np.log10(t)) for t in yticks])
    ax.grid(True, which='major', color='#d6d6d6', lw=0.9)
    if minor_grid:
        ax.yaxis.set_minor_locator(LogLocator(base=10, subs=np.arange(2, 10)))
        ax.yaxis.set_minor_formatter(NullFormatter())
        ax.grid(True, which='minor', axis='y', color='#c4c4c4', ls=(0, (1, 3)), lw=0.8)
    else:
        ax.yaxis.set_minor_locator(NullLocator())
    ax.tick_params(which='both', direction='in', top=True, right=True,
                   color='#262626', labelcolor='#262626')
    ax.tick_params(axis='x', which='major', length=6, labelsize=13.5, pad=5)
    ax.tick_params(axis='y', which='major', length=6, labelsize=13, pad=4)
    ax.tick_params(which='minor', length=3)
    for s in ax.spines.values():
        s.set_color('#262626')
        s.set_linewidth(0.9)
    ax.set_axisbelow(True)


fig = plt.figure(figsize=(10.7, 6.83), dpi=100)
W, H = 1070, 683
panels = [
    (prs_days, 'Prs (Pa)', (1, 200), [1, 10, 100], True, 31, 196, 'a)', 20, 40),
    (ndet_days, 'N det', (0.1, 100), [0.1, 1, 10, 100], True, 262, 426, 'b)', 13, 257),
    (ip_days, 'IP', (0.1, 1e4), [1, 100, 1e4], False, 493, 658, 'c)', 13, 498),
]

for days, ylabel, ylim, yticks, minor, top, bottom, letter, lx, ly in panels:
    ax = fig.add_axes([74 / W, 1 - bottom / H, 974 / W, (bottom - top) / H])
    t, v = unpack(days)
    ax.plot(t, v, 'o', color='black', ms=2.4, mew=0)
    style_axis(ax, ylim, yticks, minor)
    ax.set_ylabel(ylabel, fontsize=15, color='#404040', labelpad=4)
    fig.text(lx / W, 1 - ly / H, letter, fontsize=23, style='italic',
             family=['Open Sans', 'DejaVu Sans'], va='baseline', ha='left')

fig.savefig('out.png', dpi=100)
